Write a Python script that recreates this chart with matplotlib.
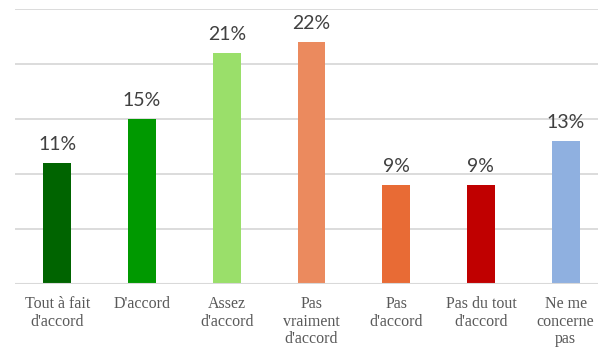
import matplotlib
matplotlib.use("Agg")
import matplotlib.pyplot as plt

############### DATA ###################

categories = ["Tout à fait\nd'accord", "D'accord", "Assez\nd'accord",
              "Pas\nvraiment\nd'accord", "Pas\nd'accord",
              "Pas du tout\nd'accord", "Ne me\nconcerne\npas"]
values = [11, 15, 21, 22, 9, 9, 13]
colors = ["#006400", "#009900", "#9ADF6A", "#EB8A5E", "#E86B35", "#C00000", "#8FB0E0"]
grid_levels = [5, 10, 15, 20, 25]

############### PLOT ###################

fig = plt.figure(figsize=(5.98, 3.48), dpi=100)
# axes runs slightly past the right border, like the cropped original
ax = fig.add_axes([15/598, (348-284)/348, 593/598, 275/348])

x = list(range(len(values)))
ax.bar(x, values, width=0.33, color=colors, zorder=2)
ax.set_xlim(-0.5, len(values) - 0.5)
ax.set_ylim(0, 25)

for lvl in grid_levels:
  ax.axhline(lvl, color="#d9d9d9", lw=1.3, zorder=1)
ax.axhline(0, color="#d9d9d9", lw=1.5, zorder=3)

for xi, v in zip(x, values):
  ax.text(xi, v + 0.95, "%d%%" % v, ha="center", va="bottom",
          fontsize=14, color="#404040", family="Lato")

ax.set_xticks(x)
ax.set_xticklabels(categories, family="Liberation Serif", fontsize=11.5,
                   color="#595959", linespacing=1.1)
ax.tick_params(axis="x", length=0, pad=9)
ax.set_yticks([])
for s in ax.spines.values():
  s.set_visible(False)

fig.savefig("out.png", dpi=100)
